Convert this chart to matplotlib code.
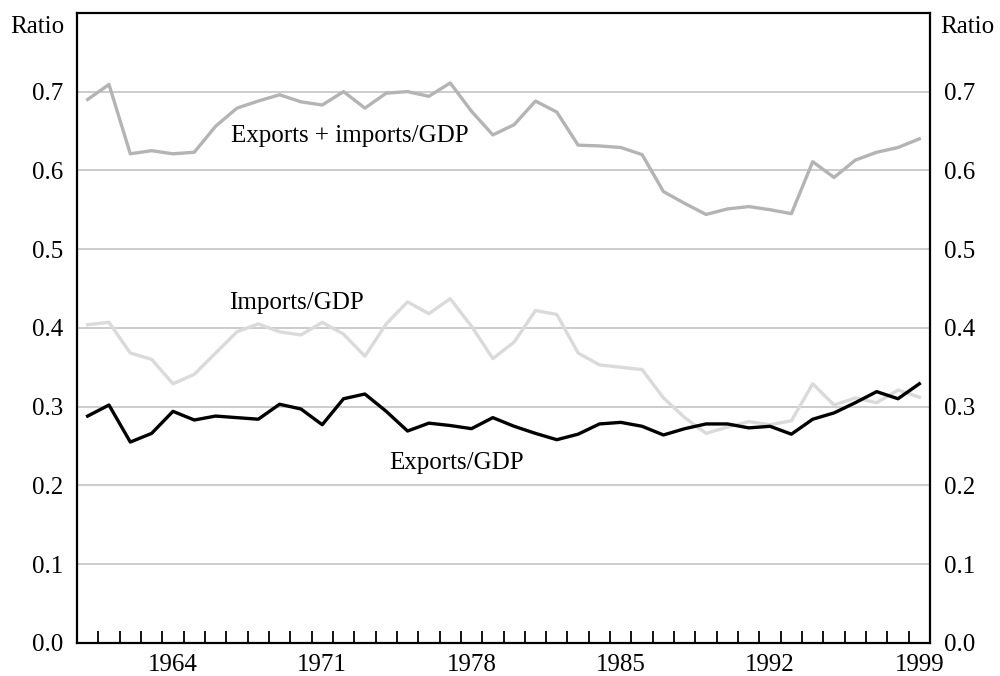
import numpy as np
import matplotlib.pyplot as plt

plt.rcParams['font.family'] = ['Liberation Serif', 'DejaVu Serif']

years = list(range(1960, 2000))

total = [0.690, 0.709, 0.621, 0.625, 0.621, 0.623, 0.656, 0.679, 0.688, 0.696,
         0.687, 0.683, 0.700, 0.679, 0.698, 0.700, 0.694, 0.711, 0.675, 0.645,
         0.658, 0.688, 0.674, 0.632, 0.631, 0.629, 0.620, 0.573, 0.558, 0.544,
         0.551, 0.554, 0.550, 0.545, 0.611, 0.591, 0.613, 0.623, 0.629, 0.640]

imports = [0.404, 0.407, 0.368, 0.360, 0.329, 0.341, 0.368, 0.395, 0.405, 0.395,
           0.391, 0.407, 0.392, 0.364, 0.405, 0.433, 0.418, 0.437, 0.402, 0.361,
           0.382, 0.422, 0.417, 0.368, 0.353, 0.350, 0.347, 0.311, 0.286, 0.266,
           0.274, 0.281, 0.277, 0.282, 0.329, 0.302, 0.311, 0.305, 0.321, 0.312]

exports = [0.288, 0.302, 0.255, 0.266, 0.294, 0.283, 0.288, 0.286, 0.284, 0.303,
           0.297, 0.277, 0.310, 0.316, 0.294, 0.269, 0.279, 0.276, 0.272, 0.286,
           0.275, 0.266, 0.258, 0.265, 0.278, 0.280, 0.275, 0.264, 0.272, 0.278,
           0.278, 0.273, 0.275, 0.265, 0.284, 0.292, 0.305, 0.319, 0.310, 0.329]

label_years = [1964, 1971, 1978, 1985, 1992, 1999]
y_ticks = [0.0, 0.1, 0.2, 0.3, 0.4, 0.5, 0.6, 0.7]

fs = 18

fig = plt.figure(figsize=(10, 6.76), dpi=100)
ax = fig.add_axes([0.077, 0.049, 0.853, 0.932])

ax.set_xlim(1959.5, 1999.5)
ax.set_ylim(0, 0.8)

# grid lines
for v in y_ticks[1:]:
    ax.axhline(v, color='#c8c8c8', lw=1.3, zorder=1)

ax.plot(years, total, color='#b4b4b4', lw=2.4, zorder=2)
ax.plot(years, imports, color='#dadada', lw=2.4, zorder=2)
ax.plot(years, exports, color='black', lw=2.4, zorder=3)

ax.text(1972.3, 0.643, 'Exports + imports/GDP', fontsize=fs, ha='center', va='center')
ax.text(1969.8, 0.432, 'Imports/GDP', fontsize=fs, ha='center', va='center')
ax.text(1977.3, 0.229, 'Exports/GDP', fontsize=fs, ha='center', va='center')

# year-boundary ticks, labels at every seventh year
ax.set_xticks(np.arange(1960.5, 1999, 1.0))
ax.set_xticklabels([])
ax.tick_params(axis='x', direction='in', length=9, width=1.3, color='black')
ax.set_xticks(label_years, minor=True)
ax.set_xticklabels([str(y) for y in label_years], minor=True, fontsize=fs)
ax.tick_params(axis='x', which='minor', length=0, pad=8)

ax.set_yticks(y_ticks)
ax.set_yticklabels(['%.1f' % v for v in y_ticks], fontsize=fs)
ax.tick_params(axis='y', length=0, pad=10, labelleft=True, labelright=True)

for s in ax.spines.values():
    s.set_linewidth(1.6)

fig.text(0.010, 0.960, 'Ratio', fontsize=fs, ha='left', va='center')
fig.text(0.940, 0.960, 'Ratio', fontsize=fs, ha='left', va='center')

fig.savefig('out.png', dpi=100)
